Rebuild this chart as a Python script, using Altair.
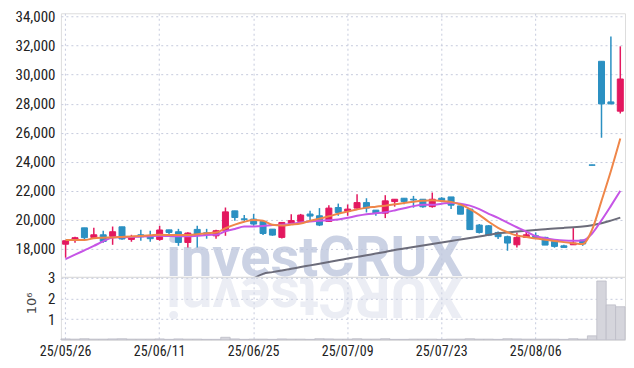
import altair as alt
import pandas as pd

dates = ["25/05/26","25/05/27","25/05/28","25/05/29","25/05/30","25/06/02","25/06/04","25/06/05","25/06/09","25/06/10",
         "25/06/11","25/06/12","25/06/13","25/06/16","25/06/17","25/06/18","25/06/19","25/06/20","25/06/23","25/06/24",
         "25/06/25","25/06/26","25/06/27","25/06/30","25/07/01","25/07/02","25/07/03","25/07/04","25/07/07","25/07/08",
         "25/07/09","25/07/10","25/07/11","25/07/14","25/07/15","25/07/16","25/07/17","25/07/18","25/07/21","25/07/22",
         "25/07/23","25/07/24","25/07/25","25/07/28","25/07/29","25/07/30","25/07/31","25/08/01","25/08/04","25/08/05",
         "25/08/06","25/08/07","25/08/08","25/08/11","25/08/12","25/08/13","25/08/14","25/08/18","25/08/19","25/08/20"]

open_ = [18310,18640,19440,18780,18960,18850,19510,18640,18960,18870,
         18640,19300,19170,18430,19330,19100,18890,19240,20610,20060,
         20040,19880,19350,18780,19760,19880,20390,20270,19880,20840,
         20580,20800,21180,20660,20450,21250,21480,21410,21410,20900,
         21480,21570,20950,20730,19630,19580,19120,18830,18270,18780,
         18890,18780,18500,18200,18270,18600,23780,30920,28120,27480]
high = [18550,18820,19440,19440,19240,19530,19510,18960,19300,19240,
        19580,19300,19370,19130,19580,19370,19300,20840,20610,20320,
        20400,19880,19350,19810,20380,20400,20610,20800,21000,21110,
        21050,21760,21480,20660,21690,21410,21480,21640,21410,21870,
        21550,21570,20950,20730,19700,19630,19180,18900,19120,19280,
        19120,18830,18550,18270,19420,18600,23780,30920,32630,31950]
low = [17380,18410,18620,18780,18410,18270,18620,18480,18550,18480,
       18550,19000,18200,18090,18090,18690,18690,18890,19920,19860,
       19580,18950,18890,18710,19700,19850,19970,19560,19850,20270,
       20270,20750,20500,20270,20110,20900,21070,20830,20830,20830,
       21200,20730,20380,19320,19050,18870,18670,17860,18090,18760,
       18690,18250,18070,18090,18270,18200,23750,25650,27980,27320]
close = [18550,18760,18760,18960,18500,19170,18670,18820,18820,18690,
         19290,19120,18430,19080,19010,18990,19240,20540,20150,20020,
         19700,19050,18940,19810,19940,20320,20250,19630,20800,20500,
         20730,21180,20800,20430,21300,21410,21250,21360,20890,21410,
         21340,21000,20380,19320,19120,18940,18830,18390,18780,18960,
         18730,18250,18160,18090,18390,18330,23750,27980,27980,29700]

ma5 = [18598,18598,18598,18720,18756,18777,18811,18845,18880,18921,
       18962,18942,18942,18942,18997,19065,19113,19409,19663,19856,
       19973,19924,19650,19595,19663,19739,19924,20076,20234,20406,
       20557,20708,20832,20900,20969,21058,21148,21230,21299,21340,
       21292,21230,21045,20735,20337,19856,19443,19134,18907,18811,
       18701,18619,18536,18454,18378,18323,19320,21299,23361,25600]
ma10 = [17292,17588,17890,18192,18509,18777,18790,18811,18838,18866,
        18887,18873,18859,18852,18893,18948,18962,19203,19361,19526,
        19533,19567,19629,19650,19718,19808,19876,19931,19959,20007,
        20131,20268,20378,20440,20515,20639,20783,20935,21024,21024,
        21106,21175,21106,20969,20728,20406,20131,19801,19478,19182,
        18859,18722,18625,18564,18550,18564,19050,19959,20955,21986]
ma_long = [None]*20 + [15950,16268,16385,16502,16619,16735,16852,16969,17086,17203,
                       17320,17437,17553,17663,17780,17904,18014,18124,18227,18330,
                       18433,18536,18639,18742,18845,18955,19058,19120,19182,19237,
                       19292,19340,19388,19436,19484,19526,19615,19753,19938,20144]

volume_m = [0.04,0.03,0.05,0.03,0.03,0.04,0.05,0.03,0.03,0.03,
            0.04,0.02,0.04,0.03,0.03,0.02,0.02,0.12,0.04,0.02,
            0.03,0.03,0.02,0.04,0.03,0.03,0.02,0.05,0.04,0.03,
            0.03,0.05,0.03,0.03,0.05,0.02,0.02,0.03,0.03,0.03,
            0.02,0.03,0.03,0.05,0.03,0.03,0.02,0.05,0.04,0.03,
            0.03,0.03,0.03,0.02,0.05,0.03,0.19,2.85,1.69,1.60]

tick_dates = ["25/05/26","25/06/11","25/06/25","25/07/09","25/07/23","25/08/06"]
price_ticks = [18000,20000,22000,24000,26000,28000,30000,32000,34000]
vol_ticks = [1,2,3]

df = pd.DataFrame({"date": dates, "open": open_, "high": high, "low": low, "close": close,
                   "ma5": ma5, "ma10": ma10, "ma_long": ma_long, "vol": volume_m})

RED = "#e3185f"
BLUE = "#2b90c2"
LABEL_FONT = "Roboto Condensed"
GRID = "#c6cbdd"

xscale = alt.Scale(type="band", paddingInner=0, paddingOuter=0)
x_top = alt.X("date:O", sort=None, scale=xscale, title=None,
              axis=alt.Axis(values=tick_dates, labels=False, ticks=False, domain=False, grid=True,
                            bandPosition=0.5, gridDash=[2, 3], gridColor=GRID))
x_bot = alt.X("date:O", sort=None, scale=xscale, title=None,
              axis=alt.Axis(values=tick_dates, labels=True, ticks=False, domain=False, grid=True,
                            bandPosition=0.5, gridDash=[2, 3], gridColor=GRID, labelAngle=0,
                            labelFont=LABEL_FONT, labelFontSize=14, labelColor="#222",
                            labelPadding=5))

yscale = alt.Scale(domain=[16060, 34230], nice=False, zero=False)
yaxis = alt.Axis(values=price_ticks, format=",d", ticks=False, domain=False, gridDash=[2, 3],
                 gridColor=GRID, labelFont=LABEL_FONT, labelFontSize=15, labelColor="#222",
                 labelPadding=6, title=None)

cond_color = alt.condition(alt.datum.close >= alt.datum.open, alt.value(RED), alt.value(BLUE))

wm = pd.DataFrame({"t": ["investCRUX"], "r": ["XURCtsevni"]})

base = alt.Chart(df)

watermark = alt.Chart(wm).mark_text(font="Roboto", fontWeight="bold", fontSize=56, color="#bfc7de",
                                    opacity=0.8, align="center", baseline="alphabetic").encode(
    text="t:N", x=alt.value(254), y=alt.value(263))

wick = base.mark_rule(strokeWidth=1.5).encode(
    x=x_top, y=alt.Y("low:Q", scale=yscale, axis=yaxis), y2="high:Q", color=cond_color)
body = base.mark_bar(size=6, strokeWidth=1).encode(
    x=x_top, y=alt.Y("open:Q", scale=yscale, axis=yaxis), y2="close:Q", color=cond_color, stroke=cond_color)
line_long = base.mark_line(color="#6c6c7a", strokeWidth=2, interpolate="monotone", clip=True).encode(
    x=x_top, y=alt.Y("ma_long:Q", scale=yscale, axis=yaxis))
line10 = base.mark_line(color="#c655e6", strokeWidth=2, interpolate="monotone", clip=True).encode(
    x=x_top, y=alt.Y("ma10:Q", scale=yscale, axis=yaxis))
line5 = base.mark_line(color="#ef8649", strokeWidth=2, interpolate="monotone", clip=True).encode(
    x=x_top, y=alt.Y("ma5:Q", scale=yscale, axis=yaxis))

price = alt.layer(watermark, wick, body, line_long, line10, line5).properties(width=565, height=264)

reflection = alt.Chart(wm).mark_text(font="Roboto", fontWeight="bold", fontSize=56, color="#d3d8e8",
                                     opacity=0.45, align="center", baseline="alphabetic", angle=180).encode(
    text="r:N", x=alt.value(254), y=alt.value(1))

vbars = base.mark_bar(fill="#d5d5dc", stroke="#bcbcc6", strokeWidth=0.8).encode(
    x=x_bot,
    y=alt.Y("vol:Q", scale=alt.Scale(domain=[0, 3.05], nice=False),
            axis=alt.Axis(values=vol_ticks, ticks=False, domain=False, gridDash=[2, 3], gridColor=GRID,
                          labelFont=LABEL_FONT, labelFontSize=15, labelColor="#222", labelPadding=6,
                          title="10⁶", titleFont="DejaVu Sans", titleFontSize=13, titleFontWeight="normal",
                          titleColor="#444", titleX=-29, titleY=26, titleAngle=-90,
                          titleAlign="center", titleBaseline="middle")))

volume = alt.layer(reflection, vbars).properties(width=565, height=63)

chart = alt.vconcat(price, volume, spacing=0, bounds="flush").properties(
    padding={"left": 6, "top": 0, "right": 0, "bottom": 5}
).configure_view(stroke="#cfcfd6", strokeWidth=1).configure(background="white")

chart.save("out.html", embed_options={"renderer": "svg", "actions": False})
